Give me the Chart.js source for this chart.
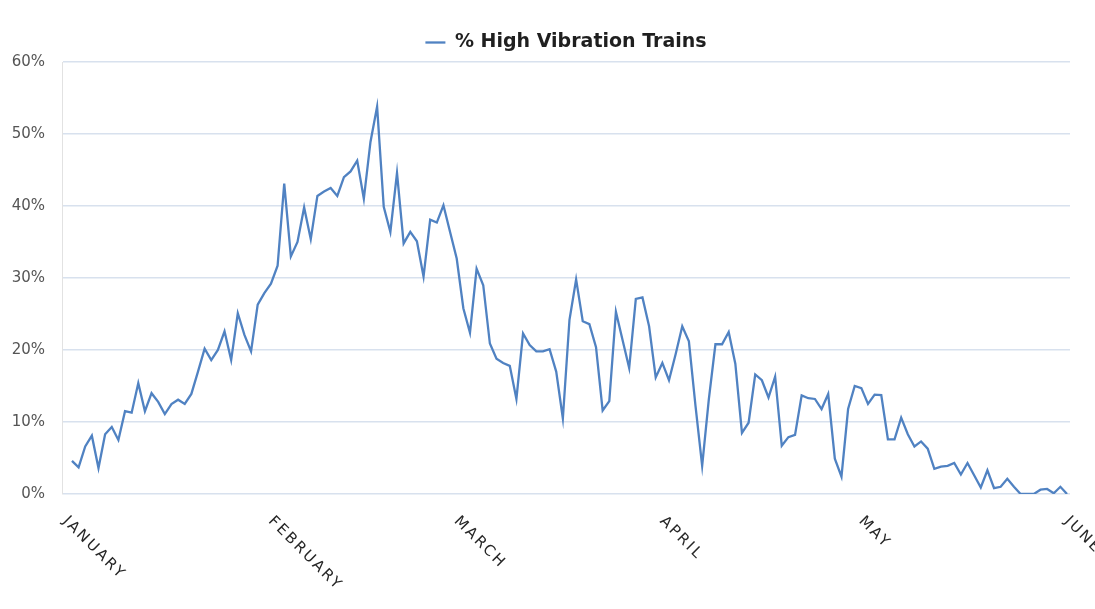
<!DOCTYPE html>
<html>
<head>
<meta charset="utf-8">
<title>% High Vibration Trains</title>
<script src="https://cdn.jsdelivr.net/npm/chart.js@4/dist/chart.umd.min.js"></script>
<style>
  html, body { margin: 0; padding: 0; background: #fff; }
  #wrap { position: relative; width: 1095px; height: 609px; }
</style>
</head>
<body>
<div id="wrap"><canvas id="chart-vibration"></canvas></div>
<script>
/**
 * Daily share of high-vibration trains, January .. May.
 */
const SERIES_LABEL = "% High Vibration Trains";

// one value per day, split by month
const janValues = [4.6, 3.7, 6.6, 8.1, 3.6, 8.3, 9.3, 7.5, 11.5, 11.3, 15.4, 11.5, 14.0, 12.8, 11.1, 12.5,
    13.1, 12.5, 13.9, 17.0, 20.2, 18.6, 20.0, 22.6, 18.6, 25.1, 22.1, 19.8, 26.3, 27.9, 29.2];
const febValues = [31.7, 43.1, 33.0, 35.0, 39.8, 35.4, 41.4, 42.0, 42.5, 41.4, 44.0, 44.8, 46.3, 41.0,
    48.9, 53.8, 39.9, 36.4, 44.6, 34.8, 36.4, 35.1, 30.2, 38.1, 37.7, 40.1, 36.4, 32.7];
const marValues = [25.8, 22.4, 31.3, 29.0, 20.9, 18.8, 18.2, 17.8, 13.2, 22.3, 20.7, 19.8, 19.8, 20.1,
    17.0, 10.5, 24.2, 29.8, 24.0, 23.6, 20.4, 11.6, 12.9, 25.3, 21.4, 17.5, 27.1, 27.3, 23.3, 16.2, 18.2];
const aprValues = [15.8, 19.4, 23.3, 21.2, 12.2, 3.9, 13.1, 20.8, 20.8, 22.5, 18.1, 8.5, 9.9, 16.6, 15.8,
    13.4, 16.3, 6.7, 7.9, 8.2, 13.7, 13.3, 13.2, 11.8, 13.9, 4.9, 2.4, 11.8, 15.0, 14.7];
const mayValues = [12.5, 13.8, 13.75, 7.6, 7.6, 10.6, 8.3, 6.6, 7.3, 6.3, 3.5, 3.8, 3.9, 4.3, 2.7, 4.3,
    2.6, 0.9, 3.3, 0.8, 1.0, 2.1, 1.0, 0.0, 0.0, 0.0, 0.6, 0.7, 0.1, 1.0, 0.0];

// x-axis labels and the day index each one sits on
const monthLabels = ["JANUARY", "FEBRUARY", "MARCH", "APRIL", "MAY", "JUNE"];
const monthStarts = [0, 31, 59, 90, 120, 151];

(function () {
    "use strict";

    const values = [].concat(janValues, febValues, marValues, aprValues, mayValues);
    const points = values.map((v, i) => ({ x: i, y: v }));

    // month names, rotated 45deg clockwise and hanging under the axis
    const monthLabelsPlugin = {
        id: "monthLabels",
        afterDraw(chart) {
            const { ctx, chartArea } = chart;
            const xs = chart.scales.x;
            ctx.save();
            ctx.font = '15px "DejaVu Sans"';
            ctx.fillStyle = "#262626";
            ctx.letterSpacing = "2.4px";
            ctx.textAlign = "left";
            ctx.textBaseline = "middle";
            monthLabels.forEach((name, k) => {
                const px = xs.getPixelForValue(monthStarts[k]) - 7;
                ctx.save();
                ctx.translate(px, chartArea.bottom + 25);
                ctx.rotate(Math.PI / 4);
                ctx.fillText(name, 0, 0);
                ctx.restore();
            });
            ctx.restore();
        },
    };

    const el = document.getElementById("chart-vibration");
    new Chart(el.getContext("2d"), {
        type: "line",
        data: {
            datasets: [{
                label: SERIES_LABEL,
                data: points,
                borderColor: "#5082c2",
                backgroundColor: "#5082c2",
                borderWidth: 2.3,
                pointRadius: 0,
                pointStyle: "line",
                tension: 0,
            }],
        },
        options: {
            responsive: true,
            maintainAspectRatio: false,
            animation: false,
            layout: { padding: { top: 11, right: 25, bottom: 0, left: 0 } },
            plugins: {
                legend: {
                    position: "top",
                    fullSize: false,
                    labels: {
                        usePointStyle: true,
                        pointStyleWidth: 20,
                        padding: 10,
                        color: "#1f1f1f",
                        font: { family: "DejaVu Sans", size: 19, weight: "bold" },
                    },
                },
                tooltip: { enabled: false },
            },
            scales: {
                x: {
                    type: "linear",
                    min: -1.5,
                    max: 150.45,
                    grid: { display: false },
                    border: { display: false },
                    ticks: { display: false },
                    afterFit(s) { s.height = 115; },
                },
                y: {
                    min: 0,
                    max: 60,
                    grid: { color: "#d8e1ee", lineWidth: 1.5, drawTicks: false },
                    border: { display: true, color: "#e2e2e2", width: 1 },
                    ticks: {
                        stepSize: 10,
                        padding: 17,
                        color: "#555555",
                        font: { family: "DejaVu Sans", size: 15 },
                        callback: v => `${v}%`,
                    },
                    afterFit(s) { s.width = 62; s.paddingTop = 62; },
                },
            },
        },
        plugins: [monthLabelsPlugin],
    });
})();
</script>
</body>
</html>
